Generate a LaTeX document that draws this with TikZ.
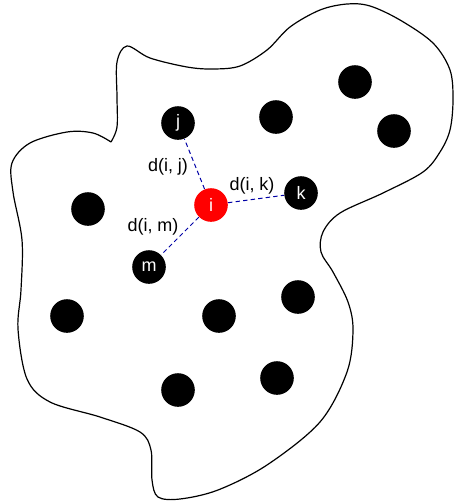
\documentclass[tikz,border=0pt]{standalone}
\usepackage{fontspec}
\setmainfont{Liberation Sans}
\begin{document}
\begin{tikzpicture}[x=0.5pt,y=-0.5pt,
    sample/.style={circle,fill=black,inner sep=0pt,minimum size=16.8pt,text=white,font=\fontsize{9}{10}\selectfont},
    dist/.style={draw=blue!65!black,dash pattern=on 2.2pt off 1.6pt,line width=0.5pt},
    lbl/.style={font=\fontsize{9}{10}\selectfont}]
  \useasboundingbox (0,0) rectangle (454,504);
  % region
  \draw[line width=0.6pt] plot[smooth,tension=0.55] coordinates {
    (111,142) (117,127) (117,97) (117,62) (127,46) (150,58) (187,67) (213,69)
    (240,66) (267,50) (290,27) (320,10) (347,4) (370,6) (400,20) (433,43)
    (450,70) (453,100) (450,130) (440,152) (423,172) (383,193) (340,213)
    (323,232) (321,252) (333,272) (348,302) (353,330) (347,372) (320,422)
    (267,465) (218,490) (180,499) (158,497) (152,480) (151,450) (140,432)
    (100,417) (50,402) (27,379) (18,329) (21,290) (22,240) (13,192)
    (12,163) (30,143) (67,132) (93,133) (111,142)};
  % points
  \node[sample,fill=red] (i) at (211,205) {i};
  \node[sample] (j) at (178,123) {j};
  \node[sample] (k) at (301,193) {k};
  \node[sample] (m) at (149,267) {m};
  \node[sample] (p1) at (276,117) {};
  \node[sample] (p2) at (355,82) {};
  \node[sample] (p3) at (394,131) {};
  \node[sample] (p4) at (88,209) {};
  \node[sample] (p5) at (67,316) {};
  \node[sample] (p6) at (219,316) {};
  \node[sample] (p7) at (298,297) {};
  \node[sample] (p8) at (178,390) {};
  \node[sample] (p9) at (277,378) {};
  % distances
  \draw[dist] (i) -- (j);
  \draw[dist] (i) -- (k);
  \draw[dist] (i) -- (m);
  \node[lbl] (dij) at (168,167) {d(i, j)};
  \node[lbl] (dik) at (252,186) {d(i, k)};
  \node[lbl] (dim) at (153,227) {d(i, m)};
\end{tikzpicture}
\end{document}
